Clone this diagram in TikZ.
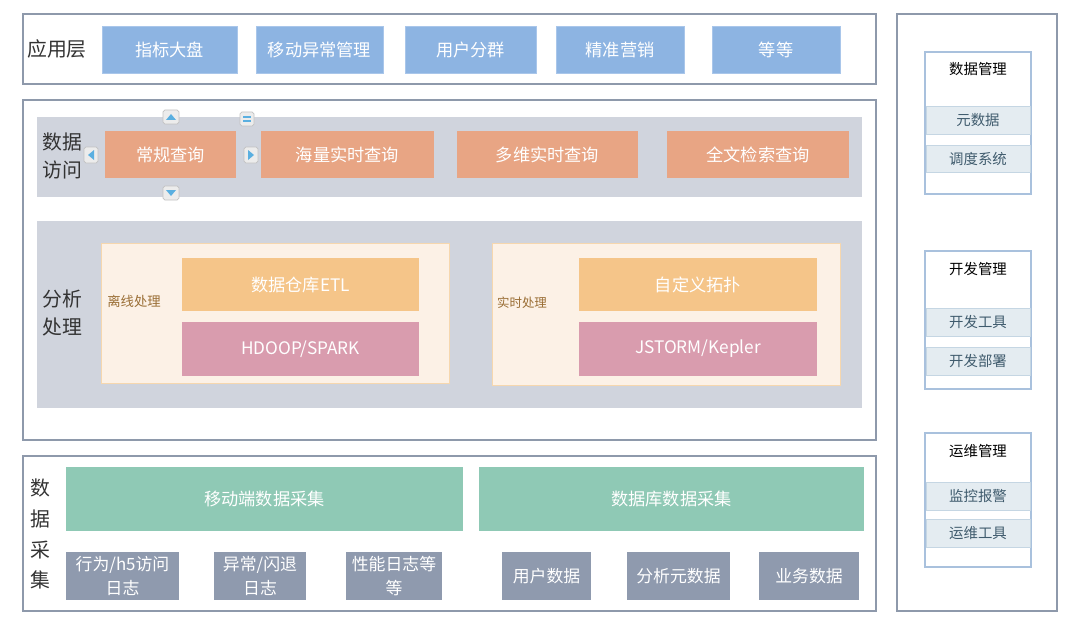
\documentclass[tikz,border=0pt]{standalone}
\usepackage{fontspec}
\setmainfont{Noto Sans CJK SC}
\usetikzlibrary{calc}
\definecolor{frame}{HTML}{8E99AB}
\definecolor{appfill}{HTML}{8DB4E2}
\definecolor{appline}{HTML}{A9C6EA}
\definecolor{panel}{HTML}{D0D4DD}
\definecolor{salmon}{HTML}{E8A584}
\definecolor{cream}{HTML}{FCF1E6}
\definecolor{creamline}{HTML}{F6D7AE}
\definecolor{orangeb}{HTML}{F5C589}
\definecolor{pinkb}{HTML}{D99CAE}
\definecolor{greenb}{HTML}{8FC9B5}
\definecolor{grayb}{HTML}{8F9AAE}
\definecolor{itemfill}{HTML}{E4ECF1}
\definecolor{itemline}{HTML}{C5D6E3}
\definecolor{subline}{HTML}{A9C1DD}
\definecolor{labtxt}{HTML}{333333}
\definecolor{itemtxt}{HTML}{3F5B6D}
\definecolor{brownt}{HTML}{9A6E35}
\definecolor{btnfill}{HTML}{ECECEC}
\definecolor{btnline}{HTML}{C2C2C2}
\definecolor{btnblue}{HTML}{5AAFE0}
\newcommand{\bx}[7]{\node[#6, minimum width={(#4-#2)*0.02cm}, minimum height={(#5-#3)*0.02cm}] (#1) at ({(#2+#4)/2},{(#3+#5)/2}) {#7};}
\tikzset{
  box/.style={draw, inner sep=0pt, outer sep=0pt, align=center, line width=0.5pt},
  outer/.style={box, draw=frame, line width=1.1pt, fill=white},
  app/.style={box, fill=appfill, draw=appline, text=white, font=\fontsize{9.8pt}{12pt}\selectfont},
  pnl/.style={box, fill=panel, draw=none},
  qry/.style={box, fill=salmon, draw=none, text=white, font=\fontsize{9.8pt}{12pt}\selectfont},
  crm/.style={box, fill=cream, draw=creamline},
  orb/.style={box, fill=orangeb, draw=none, text=white, font=\fontsize{9.8pt}{12pt}\selectfont},
  pkb/.style={box, fill=pinkb, draw=none, text=white, font=\fontsize{9.8pt}{12pt}\selectfont},
  grb/.style={box, fill=greenb, draw=none, text=white, font=\fontsize{9.8pt}{12pt}\selectfont},
  gyb/.style={box, fill=grayb, draw=none, text=white, font=\fontsize{9.6pt}{13.2pt}\selectfont},
  sub/.style={box, fill=white, draw=subline, line width=0.7pt},
  itm/.style={box, fill=itemfill, draw=itemline, text=itemtxt, font=\fontsize{8.2pt}{10pt}\selectfont},
  ttl/.style={inner sep=0pt, text=black, font=\fontsize{8.2pt}{10pt}\selectfont},
  lab/.style={inner sep=0pt, align=left, text=labtxt},
  small/.style={inner sep=0pt, text=brownt},
  btn/.style={box, fill=btnfill, draw=btnline, rounded corners=1pt, line width=0.4pt},
}
\begin{document}
\begin{tikzpicture}[x=0.02cm,y=-0.02cm]
\useasboundingbox (0,0) rectangle (1075,625);
% outer frames
\bx{fapp}{23}{14}{876}{84}{outer}{}
\bx{fmid}{23}{100}{876}{440}{outer}{}
\bx{fcol}{23}{456}{876}{611}{outer}{}
\bx{fright}{897}{14}{1057}{611}{outer}{}
% application layer
\node[lab, font=\fontsize{11.3pt}{13pt}\selectfont] (lapp) at (57,49) {应用层};
\bx{a1}{102}{26}{237}{73}{app}{指标大盘}
\bx{a2}{256}{26}{383}{73}{app}{移动异常管理}
\bx{a3}{405}{26}{536}{73}{app}{用户分群}
\bx{a4}{556}{26}{684}{73}{app}{精准营销}
\bx{a5}{712}{26}{840}{73}{app}{等等}
% data access
\bx{pacc}{37}{117}{862}{197}{pnl}{}
\node[lab, font=\fontsize{11.3pt}{16pt}\selectfont] (lacc) at (62,156) {数据\\访问};
\bx{q1}{105}{131}{236}{178}{qry}{常规查询}
\bx{q2}{261}{131}{434}{178}{qry}{海量实时查询}
\bx{q3}{457}{131}{638}{178}{qry}{多维实时查询}
\bx{q4}{667}{131}{849}{178}{qry}{全文检索查询}
% buttons
\bx{bup}{163}{110}{179}{124}{btn}{}
\bx{bdn}{163}{186}{179}{200}{btn}{}
\bx{blf}{84}{147}{98}{163}{btn}{}
\bx{brt}{244}{147}{258}{163}{btn}{}
\bx{beq}{240}{112}{254}{126}{btn}{}
\fill[btnblue] ($(bup)+(-5,3)$) -- ($(bup)+(5,3)$) -- ($(bup)+(0,-3)$) -- cycle;
\fill[btnblue] ($(bdn)+(-5,-3)$) -- ($(bdn)+(5,-3)$) -- ($(bdn)+(0,3)$) -- cycle;
\fill[btnblue] ($(blf)+(3,-5)$) -- ($(blf)+(3,5)$) -- ($(blf)+(-3,0)$) -- cycle;
\fill[btnblue] ($(brt)+(-3,-5)$) -- ($(brt)+(-3,5)$) -- ($(brt)+(3,0)$) -- cycle;
\fill[btnblue] ($(beq)+(-4,-3)$) rectangle ($(beq)+(4,-1)$);
\fill[btnblue] ($(beq)+(-4,1)$) rectangle ($(beq)+(4,3)$);
% analysis
\bx{pana}{37}{221}{862}{408}{pnl}{}
\node[lab, font=\fontsize{11.3pt}{16pt}\selectfont] (lana) at (62,313) {分析\\处理};
\bx{coff}{101}{243}{449}{383}{crm}{}
\bx{creal}{492}{243}{840}{385}{crm}{}
\node[small, font=\fontsize{7.6pt}{9pt}\selectfont] (loff) at (134,301) {离线处理};
\node[small, font=\fontsize{7.1pt}{9pt}\selectfont] (lreal) at (522,303) {实时处理};
\bx{etl}{182}{258}{419}{311}{orb}{数据仓库ETL}
\bx{topo}{579}{258}{817}{311}{orb}{自定义拓扑}
\bx{hdp}{182}{322}{419}{376}{pkb}{HDOOP/SPARK}
\bx{jst}{579}{322}{817}{376}{pkb}{JSTORM/Kepler}
% data collection
\node[lab, align=center, font=\fontsize{11.3pt}{17.6pt}\selectfont] (lcol) at (40,534) {数\\据\\采\\集};
\bx{mob}{66}{467}{463}{531}{grb}{移动端数据采集}
\bx{dbc}{479}{467}{864}{531}{grb}{数据库数据采集}
\bx{g1}{66}{552}{179}{600}{gyb}{行为/h5访问\\日志}
\bx{g2}{214}{552}{306}{600}{gyb}{异常/闪退\\日志}
\bx{g3}{346}{552}{442}{600}{gyb}{性能日志等\\等}
\bx{g4}{502}{552}{591}{600}{gyb}{用户数据}
\bx{g5}{627}{552}{730}{600}{gyb}{分析元数据}
\bx{g6}{759}{552}{859}{600}{gyb}{业务数据}
% right panel
\bx{sdata}{925}{52}{1031}{194}{sub}{}
\node[ttl] (tdata) at (978,69) {数据管理};
\bx{i1}{926}{106}{1030}{134}{itm}{元数据}
\bx{i2}{926}{145}{1030}{172}{itm}{调度系统}
\bx{sdev}{925}{251}{1031}{389}{sub}{}
\node[ttl] (tdev) at (978,269) {开发管理};
\bx{i3}{926}{308}{1030}{336}{itm}{开发工具}
\bx{i4}{926}{347}{1030}{375}{itm}{开发部署}
\bx{sops}{925}{433}{1031}{567}{sub}{}
\node[ttl] (tops) at (978,451) {运维管理};
\bx{i5}{926}{482}{1030}{510}{itm}{监控报警}
\bx{i6}{926}{519}{1030}{547}{itm}{运维工具}
\end{tikzpicture}
\end{document}
